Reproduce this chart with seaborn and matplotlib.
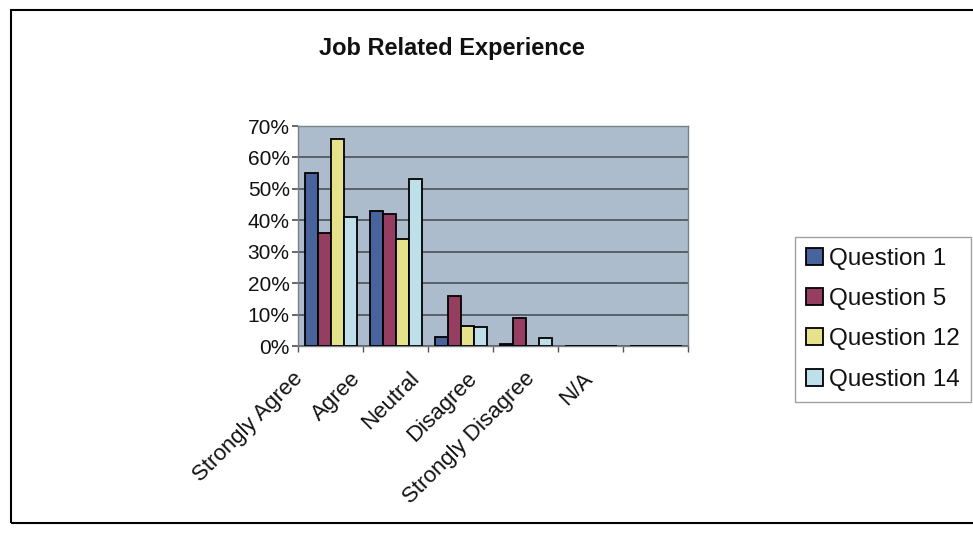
import matplotlib
matplotlib.use("Agg")
import matplotlib.pyplot as plt
import matplotlib.transforms as mtransforms
import seaborn as sns
import pandas as pd
from matplotlib.patches import Rectangle
from matplotlib.ticker import PercentFormatter

categories = ["Strongly Agree", "Agree", "Neutral", "Disagree", "Strongly Disagree", "N/A"]
series_names = ["Question 1", "Question 5", "Question 12", "Question 14"]
q1 = [55, 43, 3, 0.5, 0, 0]
q5 = [36, 42, 16, 9, 0, 0]
q12 = [66, 34, 6.5, 0, 0, 0]
q14 = [41, 53, 6, 2.5, 0, 0]
colors = ["#3b5eab", "#a3305f", "#f4f07c", "#b8e2f2"]

rows = []
for name, vals in zip(series_names, [q1, q5, q12, q14]):
    for c, v in zip(categories, vals):
        rows.append({"Response": c, "Question": name, "Value": v})
df = pd.DataFrame(rows)

sns.set_theme(style="white")
plt.rcParams["font.family"] = ["Liberation Sans", "DejaVu Sans"]

fig = plt.figure(figsize=(9.73, 5.44), dpi=100)
ax = fig.add_axes([298/973, 1-346/544, 390/973, 220/544])
ax.set_facecolor("#acbccc")

sns.barplot(data=df, x="Response", y="Value", hue="Question", order=categories,
            hue_order=series_names, palette=colors, edgecolor="black",
            linewidth=1.3, width=0.8, ax=ax, zorder=3, legend=True)

ax.set_ylim(0, 70)
ax.set_xlim(-0.5, 5.5)
ax.set_yticks(range(0, 71, 10))
ax.yaxis.set_major_formatter(PercentFormatter(decimals=0))
ax.grid(axis="y", color="#4a4f56", linewidth=1.2, zorder=0)
ax.set_axisbelow(True)
ax.set_xlabel("")
ax.set_ylabel("")
for s in ax.spines.values():
    s.set_color("#7a8088")
    s.set_linewidth(1)
ax.tick_params(axis="y", labelsize=15, left=True, length=4, color="#555", pad=2,
               labelcolor="#111111")
ax.set_xticks([i + 0.5 for i in range(-1, 6)], minor=True)
ax.set_xticklabels(categories, rotation=45, ha="right", rotation_mode="anchor",
                   fontsize=16, color="#111111")
ax.tick_params(axis="x", which="major", bottom=False, pad=10)
ax.tick_params(axis="x", which="minor", bottom=True, length=4, color="#555")
for i, lab in enumerate(ax.get_xticklabels()):
    dx = -(38 + 7 * i) / 100.0
    lab.set_transform(lab.get_transform() +
                      mtransforms.ScaledTranslation(dx, 0, fig.dpi_scale_trans))

handles, labels = ax.get_legend_handles_labels()
ax.legend_.remove()
fig.legend(handles, labels, loc="upper left", bbox_to_anchor=(795/973, 1-237/544),
           frameon=True, fontsize=17.5, handlelength=0.7, handleheight=0.7,
           handletextpad=0.25, labelspacing=0.75, borderpad=0.45, borderaxespad=0,
           fancybox=False, edgecolor="#888888", labelcolor="#111111")

fig.text(452/973, 1-48/544, "Job Related Experience", ha="center", va="center",
         fontsize=17, fontweight="bold", color="#111111")

fig.patches.append(Rectangle((11/973, 1-523/544), 1.0, (523-10)/544,
                             transform=fig.transFigure, fill=False,
                             edgecolor="black", linewidth=1.5))

fig.savefig("out.png", dpi=100)
